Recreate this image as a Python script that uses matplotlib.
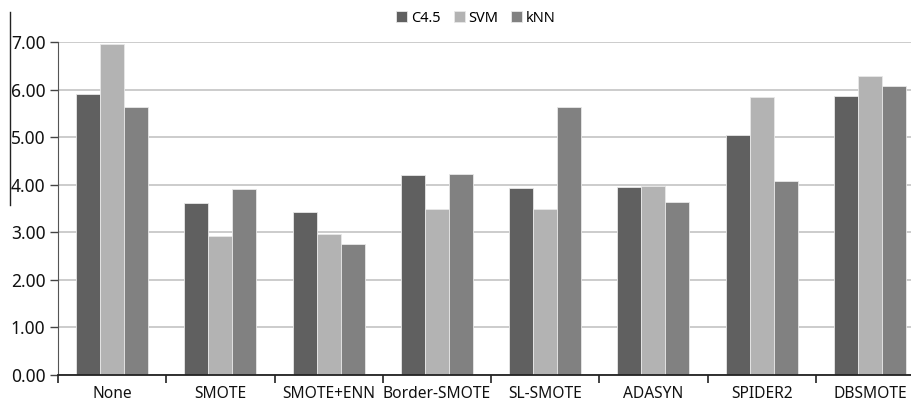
import numpy as np
import matplotlib.pyplot as plt
from matplotlib.lines import Line2D

plt.rcParams['font.family'] = ['Noto Sans', 'DejaVu Sans']

# 数据
methods = ['None', 'SMOTE', 'SMOTE+ENN', 'Border-SMOTE', 'SL-SMOTE',
           'ADASYN', 'SPIDER2', 'DBSMOTE']
c45 = [5.90, 3.61, 3.43, 4.20, 3.94, 3.95, 5.04, 5.87]
svm = [6.96, 2.93, 2.96, 3.49, 3.49, 3.97, 5.85, 6.28]
knn = [5.63, 3.90, 2.75, 4.23, 5.63, 3.64, 4.08, 6.07]
series_names = ['C4.5', 'SVM', 'kNN']
colors = ['#606060', '#b3b3b3', '#818181']

fig = plt.figure(figsize=(9.11, 4.03), dpi=100)
# 图表右侧被截掉一部分
ax = fig.add_axes([58 / 911, (403 - 375) / 403, 866 / 911, 333 / 403])

x = np.arange(len(methods))
w = 0.222
for i, (vals, c) in enumerate(zip([c45, svm, knn], colors)):
    ax.bar(x + (i - 1) * w, vals, width=w, color=c, edgecolor='#e8e8e8',
           linewidth=0.6, label=series_names[i], zorder=3)

ax.set_xlim(-0.5, len(methods) - 0.5)
ax.set_ylim(0, 7)
ax.set_yticks(np.arange(0, 8, 1))
ax.set_yticklabels([f'{v:.2f}' for v in range(8)], fontsize=12.5,
                   color='#111111')
ax.yaxis.grid(True, color='#c4c4c4', linewidth=1.2, zorder=0)

ax.set_xticks(x)
ax.set_xticklabels(methods, fontsize=11.2, color='#111111')
ax.tick_params(axis='x', length=0, pad=8)
ax.set_xticks(np.arange(-0.5, len(methods), 1), minor=True)
ax.tick_params(axis='x', which='minor', length=6, width=1.2, color='#222222')
ax.tick_params(axis='y', length=6, width=1, color='#444444', pad=3)

for s in ['top', 'right']:
    ax.spines[s].set_visible(False)
ax.spines['left'].set_color('#555555')
ax.spines['bottom'].set_color('#222222')
ax.spines['bottom'].set_linewidth(1.3)
ax.spines['bottom'].set_zorder(4)

fig.legend(loc='center', bbox_to_anchor=(476 / 911, 1 - 18 / 403), ncol=3,
           frameon=False, fontsize=10.5, handlelength=0.75, handleheight=0.75,
           handletextpad=0.25, columnspacing=0.9)

# 左侧扫描残留的竖线
fig.add_artist(Line2D([10 / 911, 10 / 911], [1 - 12 / 403, 1 - 205 / 403],
                      transform=fig.transFigure, color='#222222', linewidth=1))

fig.savefig('out.png', dpi=100)
